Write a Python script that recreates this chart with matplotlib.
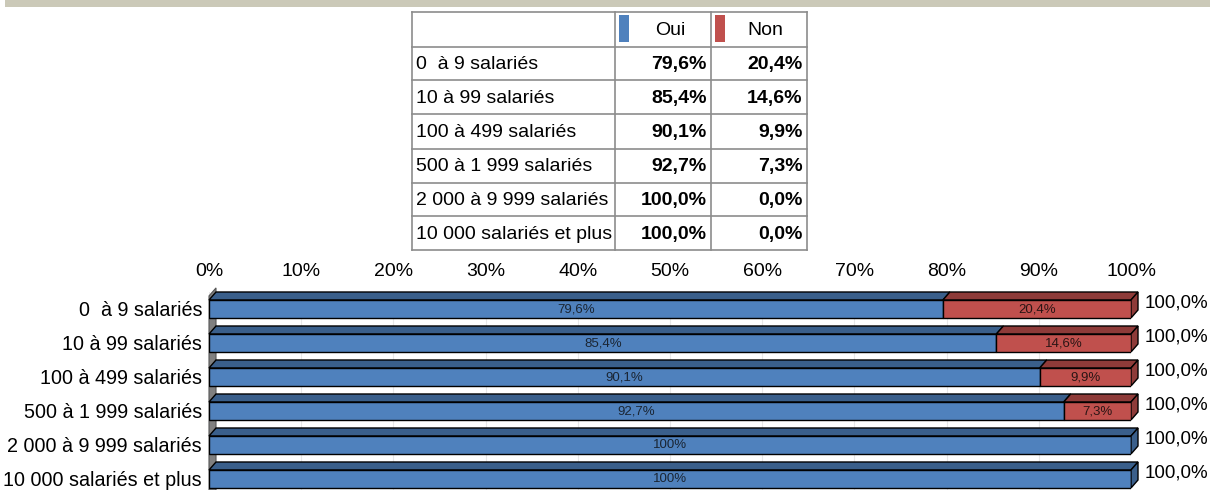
import matplotlib
matplotlib.use("Agg")
import matplotlib.pyplot as plt
from matplotlib.patches import Polygon, Rectangle

plt.rcParams['font.family'] = ['Liberation Sans', 'DejaVu Sans']

# Data
categories = ["0  à 9 salariés", "10 à 99 salariés", "100 à 499 salariés",
              "500 à 1 999 salariés", "2 000 à 9 999 salariés", "10 000 salariés et plus"]
oui = [79.6, 85.4, 90.1, 92.7, 100.0, 100.0]
non = [20.4, 14.6, 9.9, 7.3, 0.0, 0.0]
oui_labels = ["79,6%", "85,4%", "90,1%", "92,7%", "100%", "100%"]
non_labels = ["20,4%", "14,6%", "9,9%", "7,3%", "", ""]
table_oui = ["79,6%", "85,4%", "90,1%", "92,7%", "100,0%", "100,0%"]
table_non = ["20,4%", "14,6%", "9,9%", "7,3%", "0,0%", "0,0%"]
totals = ["100,0%", "100,0%", "100,0%", "100,0%", "100,0%", "100,0%"]
series_names = ["Oui", "Non"]
xticks = [0, 10, 20, 30, 40, 50, 60, 70, 80, 90, 100]

W, H = 1210, 490
blue, blue_dark = "#4F81BD", "#3A5F8B"
red, red_dark = "#C0504D", "#8E3B39"

fig = plt.figure(figsize=(W / 100, H / 100), dpi=100)

# ---- overlay axes in pixel coordinates (band + table)
ax_t = fig.add_axes([0, 0, 1, 1], zorder=0)
ax_t.set_xlim(0, W)
ax_t.set_ylim(H, 0)
ax_t.axis("off")

ax_t.add_patch(Rectangle((5, 0), W - 5, 7, color="#CBC9B8", lw=0))

col_x = [411.5, 615, 711, 806.5]
row_y = [12.3, 46.7, 80.3, 114.3, 148.7, 182.7, 216.3, 249.7]
grid_c = "#8C8C8C"
for y in row_y:
    ax_t.plot([col_x[0], col_x[-1]], [y, y], color=grid_c, lw=1.2)
for x in col_x:
    ax_t.plot([x, x], [row_y[0], row_y[-1]], color=grid_c, lw=1.2)

fs = 14
hy = (row_y[0] + row_y[1]) / 2
for i, (name, col) in enumerate(zip(series_names, [blue, red])):
    x0 = col_x[i + 1]
    ax_t.add_patch(Rectangle((x0 + 4, 15), 10, 27.5, color=col, lw=0))
    ax_t.text((x0 + 14 + col_x[i + 2]) / 2, hy + 1, name, fontsize=fs,
              ha="center", va="center")

for r in range(len(categories)):
    yc = (row_y[r + 1] + row_y[r + 2]) / 2 + 1
    ax_t.text(col_x[0] + 4.5, yc, categories[r], fontsize=fs, va="center")
    ax_t.text(col_x[2] - 4, yc, table_oui[r], fontsize=fs, va="center",
              ha="right", fontweight="bold")
    ax_t.text(col_x[3] - 4, yc, table_non[r], fontsize=fs, va="center",
              ha="right", fontweight="bold")

# ---- 3D-like stacked bar chart
ax = fig.add_axes([209 / W, (H - 496) / H, 922 / W, 204 / H], zorder=1)
ax.patch.set_alpha(0)
ax.set_xlim(0, 100)
ax.set_ylim(5.5, -0.5)
for s in ax.spines.values():
    s.set_visible(False)

dx = 7 / 922 * 100
dy = 8 / 34
h = 18 / 34
ypos = list(range(len(categories)))

# left wall
wall = Polygon([(0, -0.62 + dy), (dx, -0.62), (dx, 5.6), (0, 5.6 + dy)],
               closed=True, facecolor="#808080", edgecolor="#555555",
               lw=0.8, zorder=1, clip_on=False)
ax.add_patch(wall)

ax.barh(ypos, oui, height=h, color=blue, edgecolor="black", lw=1, zorder=3)
ax.barh(ypos, non, left=oui, height=h, color=red, edgecolor="black", lw=1, zorder=3)

for i in ypos:
    top = i - h / 2
    segs = [(0, oui[i], blue, blue_dark), (oui[i], oui[i] + non[i], red, red_dark)]
    segs = [s for s in segs if s[1] - s[0] > 0]
    for l, r, c, cd in segs:
        ax.add_patch(Polygon([(l, top), (r, top), (r + dx, top - dy), (l + dx, top - dy)],
                             closed=True, facecolor=cd, edgecolor="black",
                             lw=1, zorder=2, clip_on=False))
    l, r, c, cd = segs[-1]
    ax.add_patch(Polygon([(r, top), (r + dx, top - dy), (r + dx, top + h - dy), (r, top + h)],
                         closed=True, facecolor=cd, edgecolor="black",
                         lw=1, zorder=2, clip_on=False))
    ax.text(oui[i] / 2, i, oui_labels[i], fontsize=9.5, color="#1A2533",
            ha="center", va="center", zorder=5)
    if non[i] > 0:
        ax.text(oui[i] + non[i] / 2, i, non_labels[i], fontsize=9.5, color="#2A1515",
                ha="center", va="center", zorder=5)
    ax.text(100 + dx + 0.7, i - 0.19, totals[i], fontsize=13.5,
            ha="left", va="center", clip_on=False)

ax.set_xticks(xticks)
ax.set_xticklabels([f"{t}%" for t in xticks], fontsize=14)
ax.xaxis.tick_top()
ax.tick_params(axis="x", length=0, pad=8.5)
ax.grid(axis="x", color="#E8E8E8", lw=0.8, zorder=0)
ax.set_axisbelow(True)

ax.set_yticks(ypos)
ax.set_yticklabels(categories, fontsize=14.2)
ax.tick_params(axis="y", length=0, pad=5)

fig.savefig("out.png", dpi=100)
